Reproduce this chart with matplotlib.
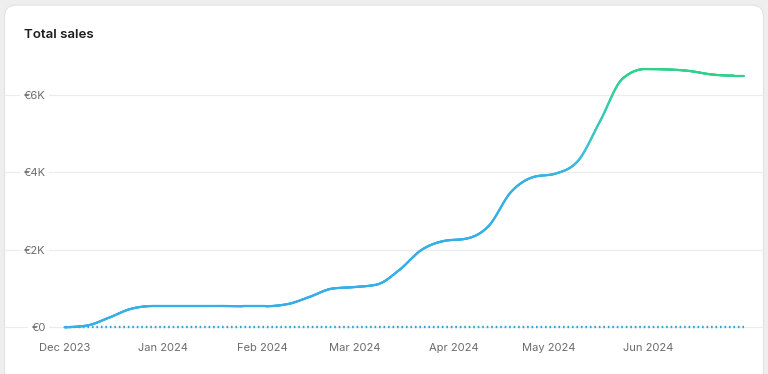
import numpy as np
import pandas as pd
import matplotlib
matplotlib.use("Agg")
import matplotlib.pyplot as plt
import matplotlib.dates as mdates
from matplotlib.collections import LineCollection
from matplotlib.colors import LinearSegmentedColormap
from matplotlib.patches import FancyBboxPatch

plt.rcParams['font.family'] = ['Inter', 'DejaVu Sans']

# weekly cumulative sales, Dec 2023 - Jun 2024
dates = list(pd.date_range("2023-12-01", periods=31, freq="7D")) + [pd.Timestamp("2024-07-01")]
sales = [0, 45, 250, 480, 550, 550, 550, 550, 545, 545, 600, 790, 1000, 1040, 1105, 1480,
         2000, 2230, 2290, 2615, 3490, 3880, 3970, 4295, 5330, 6420, 6670, 6660, 6620, 6530,
         6500, 6500]
previous = [0] * len(sales)

month_ticks = pd.date_range("2023-12-01", "2024-06-01", freq="MS")
month_labels = [d.strftime("%b %Y") for d in month_ticks]
y_ticks = [0, 2000, 4000, 6000]
y_labels = ["€0", "€2K", "€4K", "€6K"]


def monotone(x, y, n=40):
    # d3 curveMonotoneX style interpolation
    x = np.asarray(x, float)
    y = np.asarray(y, float)
    h = np.diff(x)
    s = np.diff(y) / h
    t = np.zeros_like(y)
    for i in range(1, len(x) - 1):
        p = (s[i - 1] * h[i] + s[i] * h[i - 1]) / (h[i - 1] + h[i])
        t[i] = (np.sign(s[i - 1]) + np.sign(s[i])) * min(abs(s[i - 1]), abs(s[i]), 0.5 * abs(p))
    t[0] = (3 * s[0] - t[1]) / 2
    t[-1] = (3 * s[-1] - t[-2]) / 2
    xs, ys = [], []
    for i in range(len(x) - 1):
        u = np.linspace(0, 1, n, endpoint=(i == len(x) - 2))
        h00 = 2 * u**3 - 3 * u**2 + 1
        h10 = u**3 - 2 * u**2 + u
        h01 = -2 * u**3 + 3 * u**2
        h11 = u**3 - u**2
        xs.append(x[i] + u * h[i])
        ys.append(h00 * y[i] + h10 * h[i] * t[i] + h01 * y[i + 1] + h11 * h[i] * t[i + 1])
    return np.concatenate(xs), np.concatenate(ys)


W, H = 768, 374
fig = plt.figure(figsize=(W / 100, H / 100), dpi=100, facecolor="#eeeeee")

card = FancyBboxPatch((4.5 / W, -20 / H), 759 / W, (H - 5 + 20) / H,
                      boxstyle="round,pad=0,rounding_size=0.016",
                      transform=fig.transFigure, facecolor="white",
                      edgecolor="#e2e2e2", linewidth=0.8, mutation_aspect=W / H, zorder=-5)
fig.patches.append(card)

fig.text(24 / W, 1 - 34.5 / H, "Total sales", fontsize=9.6, fontweight="semibold",
         color="#1f1f1f", va="center", ha="left")

left, right, bottom, top = 4, 764, 335, 60
ax = fig.add_axes([left / W, 1 - bottom / H, (right - left) / W, (bottom - top) / H])
ax.set_facecolor("none")

x0 = mdates.date2num(pd.Timestamp("2023-12-01"))
px_day = (648 - 64.5) / 183
ax.set_xlim(x0 - (64.5 - left) / px_day, x0 + (right - 64.5) / px_day)
px_unit = (327.3 - 95) / 6000
ax.set_ylim(-(bottom - 327.3) / px_unit, (327.3 - top) / px_unit)

xd = mdates.date2num(dates)
xs, ys = monotone(xd, sales)
pts = np.column_stack([xs, ys]).reshape(-1, 1, 2)
segs = np.concatenate([pts[:-1], pts[1:]], axis=1)
cmap = LinearSegmentedColormap.from_list("sales", [(0, "#36aee6"), (0.55, "#36aee6"),
                                                   (0.72, "#3ac4d2"), (1, "#2fd28c")])
lc = LineCollection(segs, cmap=cmap, norm=plt.Normalize(0, 6500), linewidth=1.6,
                    capstyle="round", zorder=3)
lc.set_array((segs[:, 0, 1] + segs[:, 1, 1]) / 2)
ax.add_collection(lc)

ax.plot(xd, previous, color="#2ba5e2", linewidth=1.7, linestyle=(0, (0.7, 1.2)),
        dash_capstyle="butt", zorder=2.8)

ax.set_yticks(y_ticks)
ax.set_yticklabels(y_labels)
ax.set_xticks(mdates.date2num(month_ticks))
ax.set_xticklabels(month_labels)
ax.grid(axis="y", color="#ececec", linewidth=0.8)
ax.set_axisbelow(True)
for sp in ax.spines.values():
    sp.set_visible(False)
ax.tick_params(axis="y", length=0, pad=-30, labelsize=8, labelcolor="#6b6b6b")
ax.tick_params(axis="x", length=0, pad=6, labelsize=8, labelcolor="#6b6b6b")
for lbl in ax.get_yticklabels():
    lbl.set_bbox(dict(facecolor="white", edgecolor="none", pad=2.5))

fig.savefig("out.png", dpi=100)
